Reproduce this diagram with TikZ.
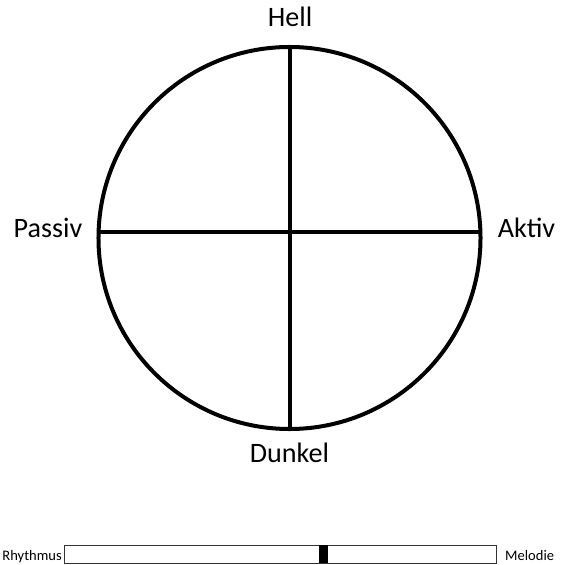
\documentclass[tikz,border=0pt]{standalone}
\usepackage{fontspec}
\setmainfont{Carlito}
\usetikzlibrary{positioning}

\begin{document}
\begin{tikzpicture}[
  x=0.03cm, y=-0.03cm,
  rim/.style={draw=black, line width=0.12cm},
  pole/.style={inner sep=0pt, anchor=base, font=\fontsize{24}{28}\selectfont},
  tag/.style={inner sep=0pt, font=\fontsize{12.4}{15}\selectfont},
  bar/.style={draw=black!80, line width=0.03cm, inner sep=0pt, minimum height=0.54cm}
]
  \useasboundingbox (0,0) rectangle (560,565);
  % the wheel and its two axes
  \node[rim, circle, inner sep=0pt, minimum size=11.46cm] (wheel) at (289.5,238) {};
  \coordinate (pw) at (98,232);
  \coordinate (pe) at (481,232);
  \draw[rim] (wheel.north) -- (wheel.south);
  \draw[rim] (pw) -- (pe);
  \node[pole] (hell) at (290,27) {Hell};
  \node[pole] (passiv) at (48,237) {Passiv};
  \node[pole] (aktiv) at (526.5,237) {Aktiv};
  \node[pole] (dunkel) at (289.5,462) {Dunkel};
  % slider below
  \node[bar, minimum width=12.93cm] (slider) at (280.5,554) {};
  \node[fill=black, inner sep=0pt, minimum width=0.27cm, minimum height=0.54cm] (knob) at (323.5,554) {};
  \node[tag, anchor=base east] (rhythm) at (62,560) {Rhythmus};
  \node[tag, anchor=base west] (melody) at (505,560) {Melodie};
\end{tikzpicture}
\end{document}
